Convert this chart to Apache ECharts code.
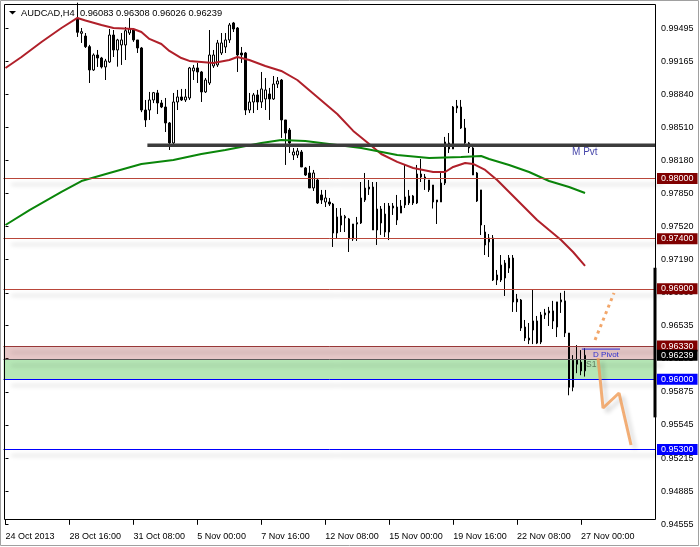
<!DOCTYPE html>
<html><head><meta charset="utf-8">
<script src="https://cdn.jsdelivr.net/npm/echarts@6/dist/echarts.min.js"></script>
<style>html,body{margin:0;padding:0;background:#fff}#c{width:700px;height:547px}</style>
</head><body><div id="c"></div>
<script>
// ---------- data ----------
const symbolTitle = 'AUDCAD,H4';
const headerOHLC = [0.96083, 0.96308, 0.96026, 0.96239];
const slotCount = 163;            // bar slots on the time axis (incl. right shift)
const firstVisibleBar = 18;       // earlier bars lie above the visible price range
const opens = [
0.99595,0.99445,0.99418,0.99312,0.99080,0.99229,0.99199,0.99110,0.99160,0.99428,
0.99279,0.99329,0.99329,0.99448,0.99478,0.99379,0.99299,0.98681,0.98681,0.98781,
0.98851,0.98751,0.98711,0.98552,0.98353,0.98761,0.98811,0.98781,0.98801,0.99070,
0.99100,0.99060,0.98861,0.98950,0.99120,0.99130,0.99249,0.99309,0.99379,0.99548,
0.99498,0.99249,0.99249,0.98681,0.98761,0.98831,0.98761,0.98791,0.98841,0.98791,
0.98940,0.98980,0.98582,0.98482,0.98233,0.98233,0.98263,0.98104,0.98054,0.97905,
0.97984,0.97835,0.97765,0.97765,0.97745,0.97456,0.97536,0.97606,0.97596,0.97397,
0.97546,0.97556,0.97785,0.97914,0.97914,0.97486,0.97695,0.97645,0.97466,0.97725,
0.97715,0.97655,0.97735,0.97825,0.97825,0.97755,0.98044,0.98014,0.97984,0.97934,
0.97785,0.97765,0.97954,0.98353,0.98293,0.98701,0.98711,0.98502,0.98353,0.98303,
0.98054,0.97885,0.97466,0.97367,0.97406,0.96988,0.96988,0.97008,0.97107,0.97207,
0.96769,0.96789,0.96520,0.96410,0.96490,0.96580,0.96370,0.96640,0.96660,0.96680,
0.96520,0.96770,0.96780,0.96460,0.95920,0.96190,0.96170,0.96083];
const highs = [
0.99750,0.99498,0.99448,0.99330,0.99245,0.99279,0.99210,0.99190,0.99488,0.99478,
0.99390,0.99448,0.99508,0.99598,0.99498,0.99379,0.99309,0.98781,0.98861,0.98861,
0.98881,0.98781,0.98801,0.98562,0.98851,0.98881,0.98891,0.98891,0.99110,0.99130,
0.99150,0.99070,0.99000,0.99478,0.99279,0.99379,0.99448,0.99448,0.99548,0.99558,
0.99508,0.99309,0.99259,0.98851,0.98851,0.98881,0.99060,0.99000,0.98901,0.99020,
0.99010,0.98990,0.98582,0.98502,0.98303,0.98303,0.98283,0.98114,0.98124,0.98084,
0.98000,0.97885,0.97885,0.97805,0.97755,0.97705,0.97705,0.97636,0.97606,0.97546,
0.97616,0.97964,0.98054,0.97984,0.97964,0.97964,0.97725,0.97755,0.97755,0.97755,
0.97835,0.97785,0.98134,0.97885,0.97835,0.98134,0.98194,0.98044,0.97984,0.97934,
0.97785,0.98054,0.98413,0.98452,0.98721,0.98781,0.98781,0.98592,0.98363,0.98313,
0.98064,0.97885,0.97536,0.97446,0.97436,0.97088,0.97237,0.97187,0.97237,0.97237,
0.96849,0.96799,0.96590,0.96560,0.96889,0.96630,0.96670,0.96700,0.96720,0.96780,
0.96770,0.96860,0.96880,0.96460,0.96240,0.96340,0.96290,0.96308];
const lows = [
0.99409,0.99349,0.99299,0.98950,0.99070,0.99110,0.99095,0.98980,0.99150,0.99209,
0.99113,0.99130,0.99179,0.99428,0.99360,0.99249,0.98660,0.98512,0.98582,0.98750,
0.98641,0.98700,0.98462,0.98283,0.98333,0.98681,0.98771,0.98761,0.98781,0.98980,
0.98950,0.98761,0.98851,0.98930,0.99100,0.99110,0.99229,0.99249,0.99349,0.99458,
0.99060,0.99150,0.98631,0.98651,0.98651,0.98681,0.98701,0.98681,0.98582,0.98781,
0.98900,0.98403,0.98134,0.98253,0.98183,0.98203,0.98114,0.98024,0.97905,0.97875,
0.97745,0.97745,0.97715,0.97725,0.97317,0.97406,0.97466,0.97466,0.97267,0.97377,
0.97377,0.97546,0.97765,0.97835,0.97486,0.97337,0.97437,0.97416,0.97386,0.97636,
0.97536,0.97655,0.97705,0.97735,0.97735,0.97745,0.97964,0.97885,0.97865,0.97700,
0.97546,0.97765,0.97934,0.98253,0.98293,0.98651,0.98492,0.98343,0.98253,0.98034,
0.97765,0.97436,0.97237,0.97217,0.96978,0.96938,0.96968,0.96829,0.97058,0.96670,
0.96670,0.96480,0.96380,0.96350,0.96350,0.96350,0.96350,0.96600,0.96530,0.96500,
0.96420,0.96660,0.96420,0.95840,0.95880,0.96060,0.96040,0.96026];
const closes = [
0.99455,0.99461,0.99312,0.99080,0.99229,0.99199,0.99110,0.99170,0.99428,0.99279,
0.99379,0.99379,0.99471,0.99488,0.99379,0.99299,0.98681,0.98582,0.98781,0.98854,
0.98751,0.98711,0.98552,0.98353,0.98761,0.98811,0.98781,0.98811,0.99100,0.99100,
0.99060,0.98861,0.98980,0.99229,0.99229,0.99349,0.99349,0.99379,0.99528,0.99488,
0.99229,0.99229,0.98681,0.98761,0.98831,0.98761,0.98891,0.98881,0.98791,0.98940,
0.98970,0.98582,0.98452,0.98353,0.98263,0.98273,0.98114,0.98034,0.97905,0.98054,
0.97755,0.97785,0.97805,0.97745,0.97456,0.97616,0.97626,0.97622,0.97397,0.97546,
0.97560,0.97805,0.97904,0.97894,0.97486,0.97695,0.97556,0.97466,0.97725,0.97705,
0.97586,0.97725,0.97815,0.97755,0.97755,0.98044,0.98014,0.97994,0.97885,0.97765,
0.97765,0.97954,0.98363,0.98293,0.98711,0.98721,0.98502,0.98353,0.98303,0.98034,
0.97775,0.97536,0.97337,0.97406,0.96988,0.97038,0.97137,0.97157,0.97207,0.96769,
0.96799,0.96510,0.96410,0.96390,0.96580,0.96360,0.96640,0.96660,0.96680,0.96580,
0.96770,0.96790,0.96460,0.95920,0.96190,0.96150,0.96083,0.96239];
const timeLabels = ['24 Oct 2013','28 Oct 16:00','31 Oct 08:00','5 Nov 00:00','7 Nov 16:00',
  '12 Nov 08:00','15 Nov 00:00','19 Nov 16:00','22 Nov 08:00','27 Nov 00:00'];
const timeLabelStep = 16;
const priceTicks = [0.99495,0.99165,0.98840,0.98510,0.98180,0.97850,0.97520,0.97190,
  0.96860,0.96535,0.96205,0.95875,0.95545,0.95215,0.94885,0.94555];
// moving averages: [bar index, price]
const redMA = [[0,0.99100],[4,0.99209],[9,0.99359],[14,0.99498],[18,0.99598],[20,0.99573],
  [24,0.99528],[27,0.99498],[32,0.99488],[34,0.99458],[36,0.99389],[39,0.99339],[41,0.99269],
  [44,0.99199],[46,0.99170],[49,0.99160],[52,0.99150],[56,0.99179],[58,0.99209],[61,0.99179],
  [65,0.99120],[69,0.99070],[73,0.98980],[78,0.98811],[83,0.98642],[87,0.98473],[91,0.98343],
  [94,0.98243],[98,0.98164],[102,0.98104],[107,0.98064],[110,0.98064],[112,0.98114],[115,0.98154],
  [117,0.98144],[120,0.98084],[123,0.97984],[126,0.97865],[130,0.97705],[133,0.97586],
  [136,0.97486],[139,0.97387],[142,0.97267],[145,0.97128]];
const greenMA = [[0,0.97536],[6,0.97685],[14,0.97865],[19,0.97974],[26,0.98054],[34,0.98144],
  [42,0.98184],[49,0.98243],[55,0.98283],[64,0.98353],[69,0.98383],[75,0.98373],[81,0.98343],
  [89,0.98303],[98,0.98233],[106,0.98203],[114,0.98213],[119,0.98223],[121,0.98193],
  [126,0.98134],[131,0.98064],[136,0.97974],[141,0.97914],[145,0.97855]];
const resistanceLevels = [0.98000, 0.97400, 0.96900, 0.96330];
const supportLevels = [0.96000, 0.95300];
const pinkZone = [0.96330, 0.96195];
const greenZone = [0.96195, 0.96000];
const currentPrice = 0.96239;
const monthlyPivot = 0.98330, monthlyPivotStartBar = 36;
const dailyPivot = 0.96300, dailyPivotBars = [144.2, 153.75];
const forecastUp = [[147.5,0.96391],[152.25,0.96859]];
const forecastDown = [[148.25,0.96211],[149.5,0.95713],[153.5,0.95863],[156.5,0.95345]];
const rangeBar = [0.97110, 0.95620];

// ---------- chart ----------
const FONT = "'Liberation Sans', Arial, sans-serif";
const categories = Array.from({length: slotCount}, (_, i) => String(i));
const candleData = categories.map((_, i) => {
  const k = i - firstVisibleBar;
  if (k < 0 || k >= opens.length) return ['-','-','-','-'];
  return [opens[k], closes[k], lows[k], highs[k]];
});
const lastSlot = slotCount - 0.5;
const shadow = {shadowColor:'rgba(0,0,0,0.28)', shadowBlur:4, shadowOffsetX:8, shadowOffsetY:6};
function tag(bg){
  return {show:true, position:'end', distance:2, formatter: p => Number(p.value).toFixed(5),
    color:'#fff', backgroundColor:bg, padding:[1,4,0,4], fontSize:9, lineHeight:10, fontFamily:FONT};
}
const levelLines = []
  .concat(resistanceLevels.map((v, i) => ({yAxis:v,
    lineStyle:Object.assign({color: i === resistanceLevels.length-1 ? '#983838' : '#b9463a', width:1, type:'solid'}, shadow),
    label:tag('#800000')})))
  .concat([{yAxis: greenZone[0], lineStyle:Object.assign({color:'#5a5a5a', width:1, type:'solid'}, shadow), label:{show:false}}])
  .concat(supportLevels.map(v => ({yAxis:v,
    lineStyle:Object.assign({color:'#0000ff', width:1, type:'solid'}, shadow), label:tag('#0000ff')})))
  .concat([{yAxis: currentPrice, lineStyle:{color:'rgba(0,0,0,0)', width:0}, label:tag('#000000')}]);

const chart = echarts.init(document.getElementById('c'), null, {renderer:'canvas'});
const option = {
  animation:false,
  backgroundColor:'#fff',
  grid:{left:3.5, right:45, top:5, bottom:22.2, containLabel:false, outerBoundsMode:'none'},
  xAxis:[{
    type:'category', data:categories, boundaryGap:true,
    axisLine:{show:false}, splitLine:{show:false},
    axisTick:{show:true, alignWithLabel:true, inside:true, length:5,
      interval:(i) => i % timeLabelStep === 0 && i / timeLabelStep < timeLabels.length,
      lineStyle:{color:'#000', width:1}},
    axisLabel:{show:true, align:'left', margin:7, color:'#000', fontSize:9, fontFamily:FONT,
      interval:(i) => i % timeLabelStep === 0 && i / timeLabelStep < timeLabels.length,
      formatter:(v, i) => (i % timeLabelStep === 0 ? (timeLabels[i / timeLabelStep] || '') : '')}
  },{
    type:'value', min:-0.5, max:lastSlot, show:false
  }],
  yAxis:[{
    type:'value', position:'right', min:0.9455, max:0.99727,
    axisLine:{show:false}, splitLine:{show:false},
    axisTick:{show:true, customValues:priceTicks, length:3, lineStyle:{color:'#000'}},
    axisLabel:{show:true, customValues:priceTicks, formatter:v => Number(v).toFixed(5),
      margin:6, color:'#000', fontSize:9, fontFamily:FONT}
  }],
  series:[
    {type:'candlestick', xAxisIndex:0, data:candleData, barWidth:2, z:2, silent:true,
      itemStyle:{color:'#fff', color0:'#000', borderColor:'#000', borderColor0:'#000', borderWidth:1}},
    {type:'line', xAxisIndex:1, data:redMA, symbol:'none', z:4, silent:true,
      lineStyle:{color:'#b0202a', width:2}},
    {type:'line', xAxisIndex:1, data:greenMA, symbol:'none', z:4, silent:true,
      lineStyle:{color:'#0a860a', width:2}},
    {type:'line', xAxisIndex:1, data:[], z:5, silent:true,
      markArea:{silent:true, data:[
        [{yAxis:pinkZone[0], itemStyle:{color:'rgba(165,55,55,0.28)'}}, {yAxis:pinkZone[1]}],
        [{yAxis:greenZone[0], itemStyle:{color:'rgba(40,185,40,0.34)'}}, {yAxis:greenZone[1]}]
      ]},
      markLine:{silent:true, precision:5, symbol:['none','none'], data:levelLines}},
    {type:'line', xAxisIndex:1, data:[[monthlyPivotStartBar-0.5, monthlyPivot],[lastSlot, monthlyPivot]],
      symbol:'none', z:4, silent:true, clip:false, lineStyle:{color:'#3c3c3c', width:3.5}},
    {type:'line', xAxisIndex:1, data:dailyPivotBars.map(b => [b, dailyPivot]),
      symbol:'none', z:6, silent:true, lineStyle:{color:'#2828d8', width:1}},
    {type:'line', xAxisIndex:1, data:forecastUp, symbol:'none', z:7, silent:true,
      lineStyle:{color:'rgba(240,150,80,0.85)', width:3, type:[3,4]}},
    {type:'line', xAxisIndex:1, data:forecastDown, symbol:'none', z:7, silent:true,
      lineStyle:Object.assign({color:'rgba(240,155,85,0.8)', width:3}, {shadowColor:'rgba(0,0,0,0.2)', shadowBlur:4, shadowOffsetX:4, shadowOffsetY:4})},
    {type:'line', xAxisIndex:1, data:rangeBar.map(p => [lastSlot, p]), symbol:'none', z:8, silent:true, clip:false,
      lineStyle:{color:'#000', width:3}}
  ]
};
chart.setOption(option);

function px(bar, price){ return chart.convertToPixel({seriesIndex:1}, [bar, price]); }
const mp = px(141.75, monthlyPivot);
const dp = px(147, dailyPivot);
const s1 = px(145.25, 0.96142);
chart.setOption({graphic:{elements:[
  {type:'rect', id:'outer', shape:{x:0.5, y:0.5, width:698, height:545}, style:{fill:'none', stroke:'#a0a0a0', lineWidth:1}, z:100},
  {type:'rect', id:'frame', shape:{x:4.5, y:4.5, width:651, height:515}, style:{fill:'none', stroke:'#000', lineWidth:1}, z:100},
  {type:'polygon', id:'tri', shape:{points:[[9,11],[16,11],[12.5,14.5]]}, style:{fill:'#000'}, z:100},
  {type:'text', id:'title', x:21, y:13, style:{text:symbolTitle + '  ' + headerOHLC.map(v => v.toFixed(5)).join(' '),
    fontSize:9.3, fontFamily:FONT, fill:'#000', verticalAlign:'middle'}, z:100},
  {type:'text', id:'mpvt', x:mp[0], y:mp[1] + 2, style:{text:'M Pvt', fontSize:10, fontFamily:FONT, fill:'#4646aa', verticalAlign:'top'}, z:100},
  {type:'text', id:'dpvt', x:dp[0], y:dp[1] + 1.5, style:{text:'D Pivot', fontSize:8, fontFamily:FONT, fill:'#3030d0', verticalAlign:'top'}, z:100},
  {type:'text', id:'s1', x:s1[0], y:s1[1], style:{text:'S1', fontSize:8.5, fontFamily:FONT, fill:'#5d7a5d', verticalAlign:'middle'}, z:100}
]}});
</script></body></html>
